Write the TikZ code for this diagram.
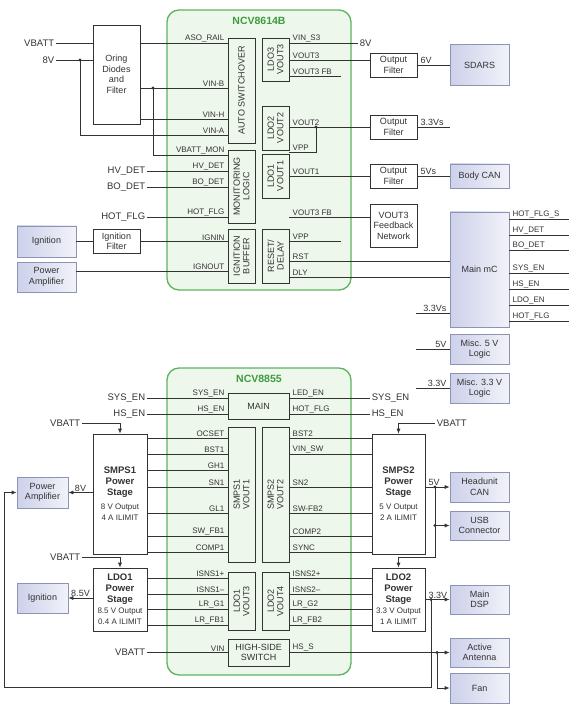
\documentclass[tikz,border=0pt]{standalone}
\usepackage{fontspec}
\setmainfont{Liberation Sans}
\usetikzlibrary{arrows.meta}
\definecolor{wire}{HTML}{333333}
\definecolor{chipgreen}{HTML}{5DB35D}
\definecolor{chipfill}{HTML}{EEF7EC}
\definecolor{titlegreen}{HTML}{3E9B3E}
\definecolor{loadedge}{HTML}{8C93B5}
\definecolor{loadleft}{HTML}{CDD1EA}
\definecolor{loadright}{HTML}{F1F2F9}
\begin{document}
\begin{tikzpicture}[>={Latex[length=5pt,width=4pt]}, x=1pt, y=-1pt, line width=.7pt, color=wire,
    blk/.style={draw, fill=white, inner sep=1pt, align=center, font=\fontsize{9}{10.5}\selectfont},
    stage/.style={blk, font=\fontsize{9.5}{11}\selectfont\bfseries},
    iblk/.style={draw, inner sep=0pt, align=center, font=\fontsize{9}{10}\selectfont},
    vtxt/.style={rotate=90, align=center, inner sep=0pt, font=\fontsize{9}{9.5}\selectfont},
    load/.style={draw=loadedge, left color=loadleft, right color=loadright, inner sep=1pt, align=center, font=\fontsize{9}{10.5}\selectfont},
    chip/.style={draw=chipgreen, fill=chipfill, rounded corners=12pt, line width=1.3pt},
    ctitle/.style={text=titlegreen, font=\bfseries\fontsize{10.5}{12}\selectfont},
    pinl/.style={anchor=south east, inner xsep=3pt, inner ysep=1pt, font=\fontsize{8}{9}\selectfont},
    pinr/.style={anchor=south west, inner xsep=3pt, inner ysep=1pt, font=\fontsize{8}{9}\selectfont},
    volt/.style={anchor=south west, inner xsep=3pt, inner ysep=1pt, font=\fontsize{9}{10}\selectfont},
    voltl/.style={volt, anchor=south east},
    sig/.style={inner sep=1.5pt, font=\fontsize{9.5}{11}\selectfont}]
\useasboundingbox (0,0) rectangle (576,708);

% ---------- NCV8614B ----------
\node[chip, minimum width=184, minimum height=280] (ncvA) at (259,150) {};
\node[ctitle] (ncvA-t) at (259,21) {NCV8614B};
\node[iblk, minimum width=27, minimum height=105] (asw) at (241.5,90.5) {};
\node[iblk, minimum width=27, minimum height=73] (mon) at (241.5,186.5) {};
\node[iblk, minimum width=27, minimum height=54] (ignbuf) at (241.5,256) {};
\node[iblk, minimum width=27, minimum height=43] (ldo3) at (275.5,59.5) {};
\node[iblk, minimum width=27, minimum height=44] (ldo2) at (275.5,128) {};
\node[iblk, minimum width=27, minimum height=44] (ldo1) at (275.5,176) {};
\node[iblk, minimum width=27, minimum height=54] (rstdly) at (275.5,256) {};
\node[vtxt] (asw-t) at (asw) {AUTO SWITCHOVER};
\node[vtxt] (mon-t) at (mon) {MONITORING\\LOGIC};
\node[vtxt] (ignbuf-t) at (ignbuf) {IGNITION\\BUFFER};
\node[vtxt] (ldo3-t) at (ldo3) {LDO3\\VOUT3};
\node[vtxt] (ldo2-t) at (ldo2) {LDO2\\VOUT2};
\node[vtxt] (ldo1-t) at (ldo1) {LDO1\\VOUT1};
\node[vtxt] (rstdly-t) at (rstdly) {RESET/\\DELAY};

\node[blk, minimum width=47, minimum height=99] (oring) at (116.5,74.5) {Oring\\Diodes\\and\\Filter};
\node[blk, minimum width=47, minimum height=24] (ignfilt) at (116.5,241.5) {Ignition\\Filter};
\node[load, minimum width=59, minimum height=31] (ignA) at (46.5,241.5) {Ignition};
\node[load, minimum width=59, minimum height=30] (pampA) at (46.5,277) {Power\\Amplifier};
\node[blk, minimum width=47, minimum height=24] (filt3) at (393.5,65) {Output\\Filter};
\node[blk, minimum width=47, minimum height=24] (filt2) at (393.5,127) {Output\\Filter};
\node[blk, minimum width=47, minimum height=24] (filt1) at (393.5,176) {Output\\Filter};
\node[blk, minimum width=47, minimum height=43] (fbnet) at (393.5,225.5) {VOUT3\\Feedback\\Network};
\node[load, minimum width=59, minimum height=41] (sdars) at (479.5,65) {SDARS};
\node[load, minimum width=59, minimum height=24] (bodycan) at (479.5,176) {Body CAN};
\node[load, minimum width=59, minimum height=115] (mcu) at (479.5,269.5) {Main mC};
\node[load, minimum width=59, minimum height=30] (misc5) at (479.5,349) {Misc. 5 V\\Logic};
\node[load, minimum width=59, minimum height=30] (misc33) at (479.5,388) {Misc. 3.3 V\\Logic};

% supply side
\node[sig, anchor=east] (vbA) at (56,43) {VBATT};
\node[sig, anchor=east] (v8A) at (56,60) {8V};
\draw (vbA) -- (oring.west |- vbA);
\draw (v8A) -- (oring.west |- v8A);
\coordinate (j8) at (80,60);
\coordinate (jb) at (153,88);
\fill (j8) circle (1.6pt);
\fill (jb) circle (1.6pt);
\draw (oring.east |- 0,43) -- (asw.west |- 0,43) node[pinl] {ASO\_RAIL};
\draw (oring.east |- jb) -- (asw.west |- jb) node[pinl] {VIN-B};
\draw (oring.east |- 0,119) -- (asw.west |- 0,119) node[pinl] {VIN-H};
\draw (j8) |- (asw.west |- 0,135) node[pinl] {VIN-A};
\draw (jb) |- (mon.west |- 0,155) node[pinl] {VBATT\_MON};
\foreach \y/\lbl in {171/HV\_DET, 187/BO\_DET, 217/HOT\_FLG} {
  \node[sig, anchor=east] (s\y) at (147,\y) {\lbl};
  \draw (s\y) -- (mon.west |- s\y) node[pinl] {\lbl};
}
\draw (ignA) -- (ignfilt);
\draw (ignfilt) -- (ignbuf.west |- ignfilt) node[pinl] {IGNIN};
\draw (pampA.east |- 0,271) -- (ignbuf.west |- 0,271) node[pinl] {IGNOUT};

% outputs
\coordinate (r8) at (358,43);
\draw (ldo3.east |- r8) -- node[pos=0, pinr] {VIN\_S3} (r8) node[sig, right] (v8r) {8V};
\draw (ldo3.east |- 0,60) -- node[pos=0, pinr] {VOUT3} (filt3.west |- 0,60);
\coordinate (r3fb) at (341,76);
\draw (ldo3.east |- r3fb) -- node[pos=0, pinr] {VOUT3 FB} (r3fb);
\draw (filt3) -- node[pos=0, volt] {6V} (sdars);
\coordinate (j2) at (316,127);
\fill (j2) circle (1.6pt);
\draw (ldo2.east |- j2) -- node[pos=0, pinr] {VOUT2} (filt2.west |- j2);
\draw (ldo2.east |- 0,152) node[pinr] {VPP} -| (j2);
\coordinate (r33) at (450,127);
\draw (filt2) -- node[pos=0, volt] {3.3Vs} (r33);
\draw (ldo1.east |- 0,176) -- node[pos=0, pinr] {VOUT1} (filt1);
\draw (filt1) -- node[pos=0, volt] {5Vs} (bodycan);
\draw (ldo1.east |- 0,217) -- node[pos=0, pinr] {VOUT3 FB} (fbnet.west |- 0,217);
\coordinate (rvpp) at (341,241);
\draw (rstdly.east |- rvpp) -- node[pos=0, pinr] {VPP} (rvpp);
\draw (rstdly.east |- 0,261) -- node[pos=0, pinr] {RST} (mcu.west |- 0,261);
\draw (rstdly.east |- 0,277) -- node[pos=0, pinr] {DLY} (mcu.west |- 0,277);
\coordinate (mcr) at (569,0);
\foreach \y/\lbl in {219/HOT\_FLG\_S, 235/HV\_DET, 250/BO\_DET, 273/SYS\_EN, 289/HS\_EN, 305/LDO\_EN, 321/HOT\_FLG}
  \draw (mcu.east |- 0,\y) -- node[pos=0, pinr] {\lbl} (mcr |- 0,\y);
\coordinate (m33) at (416,313);
\coordinate (m5) at (416,349);
\coordinate (m3) at (416,388);
\draw (m33) -- node[pos=1, voltl] {3.3Vs} (mcu.west |- m33);
\draw (m5) -- node[pos=1, voltl] {5V} (misc5);
\draw (m3) -- node[pos=1, voltl] {3.3V} (misc33);

% ---------- NCV8855 ----------
\node[chip, minimum width=184, minimum height=307] (ncvB) at (259,521.5) {};
\node[ctitle] (ncvB-t) at (259,379) {NCV8855};
\node[iblk, minimum width=61, minimum height=26] (mainb) at (258.5,406) {MAIN};
\node[iblk, minimum width=27, minimum height=135] (smps1v) at (241.5,494.5) {};
\node[iblk, minimum width=27, minimum height=135] (smps2v) at (275.5,494.5) {};
\node[iblk, minimum width=27, minimum height=58] (ldo1v) at (241.5,601) {};
\node[iblk, minimum width=27, minimum height=58] (ldo2v) at (275.5,601) {};
\node[iblk, minimum width=61, minimum height=27] (hss) at (258.5,652.5) {HIGH-SIDE\\SWITCH};
\node[vtxt] (smps1v-t) at (smps1v) {SMPS1\\VOUT1};
\node[vtxt] (smps2v-t) at (smps2v) {SMPS2\\VOUT2};
\node[vtxt] (ldo1v-t) at (ldo1v) {LDO1\\VOUT3};
\node[vtxt] (ldo2v-t) at (ldo2v) {LDO2\\VOUT4};

\node[stage, minimum width=54, minimum height=120] (smps1) at (120,494) {SMPS1\\Power\\Stage\\[3pt]{\mdseries\fontsize{8}{9}\selectfont 8 V Output}\\{\mdseries\fontsize{8}{9}\selectfont 4 A ILIMIT}};
\node[stage, minimum width=54, minimum height=63] (ldo1) at (120,599.5) {LDO1\\Power\\Stage\\{\mdseries\fontsize{8}{9}\selectfont 8.5 V Output}\\{\mdseries\fontsize{8}{9}\selectfont 0.4 A ILIMIT}};
\node[stage, minimum width=53, minimum height=120] (smps2) at (398.5,494) {SMPS2\\Power\\Stage\\[3pt]{\mdseries\fontsize{8}{9}\selectfont 5 V Output}\\{\mdseries\fontsize{8}{9}\selectfont 2 A ILIMIT}};
\node[stage, minimum width=53, minimum height=63] (ldo2) at (398.5,599.5) {LDO2\\Power\\Stage\\{\mdseries\fontsize{8}{9}\selectfont 3.3 V Output}\\{\mdseries\fontsize{8}{9}\selectfont 1 A ILIMIT}};
\node[load, minimum width=51, minimum height=31] (pampB) at (42.5,492.5) {Power\\Amplifier};
\node[load, minimum width=51, minimum height=30] (ignB) at (42.5,598) {Ignition};
\node[load, minimum width=59, minimum height=30] (hucan) at (479.5,487) {Headunit\\CAN};
\node[load, minimum width=59, minimum height=29] (usb) at (479.5,525.5) {USB\\Connector};
\node[load, minimum width=59, minimum height=29] (dsp) at (479.5,599.5) {Main\\DSP};
\node[load, minimum width=59, minimum height=29] (ant) at (479.5,652.5) {Active\\Antenna};
\node[load, minimum width=59, minimum height=30] (fan) at (479.5,688) {Fan};

% enables
\foreach \y/\lbl in {398/SYS\_EN, 414/HS\_EN} {
  \node[sig, anchor=east] (e\y) at (147,\y) {\lbl};
  \draw (e\y) -- (mainb.west |- e\y) node[pinl] {\lbl};
}
\foreach \y/\p/\lbl in {398/LED\_EN/SYS\_EN, 414/HOT\_FLG/HS\_EN} {
  \coordinate (f\y) at (370,\y);
  \draw (mainb.east |- f\y) -- node[pos=0, pinr] {\p} (f\y) node[sig, right] (g\y) {\lbl};
}

% battery feeds
\node[sig, anchor=east] (vb1) at (82,423) {VBATT};
\node[sig, anchor=east] (vb2) at (82,557) {VBATT};
\node[sig, anchor=west] (vb3) at (435,423) {VBATT};
\node[sig, anchor=east] (vb4) at (147,652.5) {VBATT};
\draw[->] (vb1) -| (smps1);
\draw[->] (vb2) -| (ldo1);
\draw[->] (vb3) -| (smps2);
\draw (vb4) -- (hss.west) node[pinl] {VIN};

% stage pins
\foreach \y/\lbl in {438/OCSET, 454/BST1, 470/GH1, 487/SN1, 513/GL1, 536/SW\_FB1, 552/COMP1}
  \draw (smps1.east |- 0,\y) -- (smps1v.west |- 0,\y) node[pinl] {\lbl};
\foreach \y/\lbl in {438/BST2, 454/VIN\_SW, 487/SN2, 513/SW-FB2, 536/COMP2, 552/SYNC}
  \draw (smps2v.east |- 0,\y) -- node[pos=0, pinr] {\lbl} (smps2.west |- 0,\y);
\foreach \y/\lbl in {578/ISNS1+, 594/ISNS1--, 609/LR\_G1, 625/LR\_FB1}
  \draw (ldo1.east |- 0,\y) -- (ldo1v.west |- 0,\y) node[pinl] {\lbl};
\foreach \y/\lbl in {578/ISNS2+, 594/ISNS2--, 609/LR\_G2, 625/LR\_FB2}
  \draw (ldo2v.east |- 0,\y) -- node[pos=0, pinr] {\lbl} (ldo2.west |- 0,\y);

% loads
\draw[->] (smps1.west |- pampB) -- node[midway, above, volt, anchor=south] {8V} (pampB);
\draw[->] (ldo1.west |- ignB) -- node[midway, above, volt, anchor=south] {8.5V} (ignB);
\coordinate (j5) at (435,487);
\coordinate (j5u) at (435,525.5);
\coordinate (b5) at (435,557);
\fill (j5) circle (1.6pt);
\fill (j5u) circle (1.6pt);
\draw[->] (smps2.east |- j5) -- node[pos=0, volt] {5V} (hucan);
\draw[->] (j5u) -- (usb);
\draw[->] (j5) -- (b5) -| (ldo2);
\coordinate (j3) at (431,599.5);
\fill (j3) circle (1.6pt);
\draw[->] (ldo2) -- node[pos=0, volt] {3.3V} (dsp);
\coordinate (lpA) at (431,687);
\coordinate (lpB) at (4,687);
\draw[->] (j3) -- (lpA) -- (lpB) |- (pampB.west);
\coordinate (jh) at (437,652.5);
\fill (jh) circle (1.6pt);
\draw[->] (hss) -- node[pos=0, pinr] {HS\_S} (ant);
\draw[->] (jh) |- (fan);

\end{tikzpicture}
\end{document}
